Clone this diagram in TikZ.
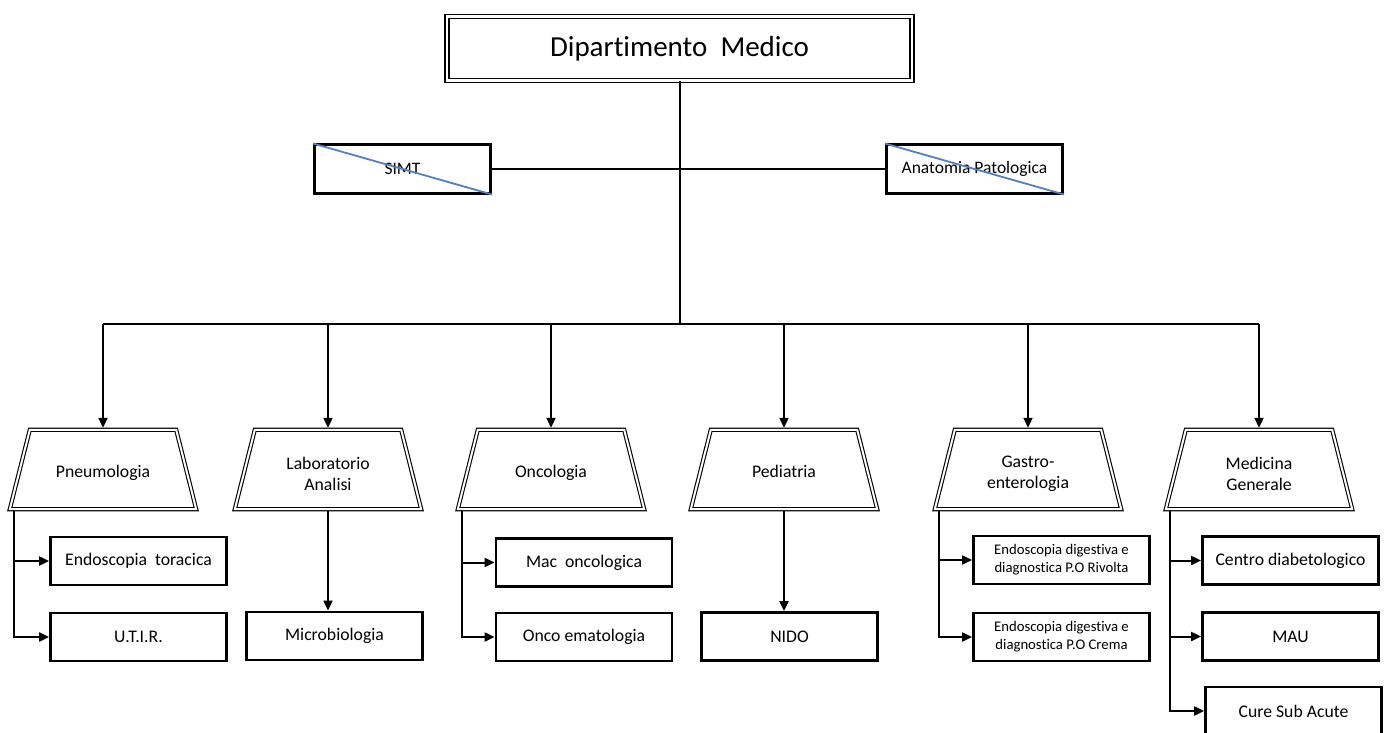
\documentclass[tikz,border=0pt]{standalone}
\usepackage{fontspec}
\setmainfont{Carlito}[Ligatures=NoCommon]
\usetikzlibrary{arrows.meta,calc}
\definecolor{strike}{HTML}{4F81BD}
\begin{document}
\begin{tikzpicture}[x=1pt,y=-1pt,
  conn/.style={line width=2pt},
  arr/.style={conn,-{Triangle[length=10pt,width=9pt]}},
  topbox/.style={draw,double,line width=1.5pt,double distance=2.5pt,
    minimum width=465,minimum height=64,inner sep=0,
    font=\fontsize{29}{33}\selectfont},
  xbox/.style={draw,line width=3pt,minimum width=176,minimum height=48,
    inner sep=0,font=\fontsize{17.5}{21}\selectfont},
  unit/.style={draw,line width=2.8pt,minimum width=176,minimum height=48,
    inner sep=0,align=center,font=\fontsize{17.7}{21}\selectfont},
  small/.style={unit,font=\fontsize{14.7}{17.7}\selectfont},
  dept/.style={minimum width=186,minimum height=79,inner sep=0,align=center,
    font=\fontsize{17.7}{21}\selectfont},
  dbl/.style={draw,double,line width=1.1pt,double distance=2pt,line join=miter}]
\useasboundingbox (0,0) rectangle (1387,733);

% head of the department
\node[topbox] (top) at (679.5,48.5) {Dipartimento~ Medico};

% staff services (struck out)
\node[xbox] (simt) at (402.5,169) {SIMT};
\node[xbox] (anat) at (974.5,169) {Anatomia Patologica};
\draw[strike,line width=1.8pt] (simt.north west) -- (simt.south east);
\draw[strike,line width=1.8pt] (anat.north west) -- (anat.south east);
\draw[conn] (simt.east) -- (anat.west);

% operating units; the text sits a little below the middle of its
% double-lined trapezoid, so the frame is raised by 4pt over the node
\node[dept] (pn) at (103,473.5) {\strut Pneumologia};
\node[dept] (la) at (328,473.5) {Laboratorio\\Analisi};
\node[dept] (on) at (551,473.5) {\strut Oncologia};
\node[dept] (pe) at (784,473.5) {\strut Pediatria};
\node[dept] (ga) at (1028,473.5) {Gastro-\\enterologia};
\node[dept] (mg) at (1259,473.5) {Medicina\\Generale};
\foreach \d in {pn,la,on,pe,ga,mg}
  \draw[dbl] ($(\d.south west)+(0,-4)$) -- ($(\d.north west)+(20,-4)$)
    -- ($(\d.north east)+(-20,-4)$) -- ($(\d.south east)+(0,-4)$) -- cycle;

% main trunk and bus
\coordinate (bus) at (679.5,324);
\draw[conn] (top.south) -- (bus);
\draw[conn] (pn.north |- bus) -- (mg.north |- bus);
\foreach \d in {pn,la,on,pe,ga,mg}
  \draw[arr] (\d.north |- bus) -- ($(\d.north)+(0,-6)$);

% simple structures
\node[unit] (et) at (138.5,561) {Endoscopia~ toracica};
\node[unit] (ut) at (138.5,637) {U.T.I.R.};
\node[unit] (mi) at (334.5,636) {Microbiologia};
\node[unit] (mo) at (584,562.5) {Mac~ oncologica};
\node[unit] (oe) at (584,637) {Onco ematologia};
\node[unit] (ni) at (789.5,636.5) {NIDO};
\node[small] (er) at (1061.5,560) {Endoscopia digestiva e\\diagnostica P.O Rivolta};
\node[small] (ec) at (1061.5,637) {Endoscopia digestiva e\\diagnostica P.O Crema};
\node[unit] (cd) at (1290.5,560.5) {Centro diabetologico};
\node[unit] (ma) at (1290.5,636.5) {MAU};
\node[unit] (cs) at (1293.5,711) {Cure Sub Acute};

% branch lines
\coordinate (pnb) at ($(pn.south west)+(4,-2)$);
\draw[arr] (pnb) |- (ut.west);
\draw[arr] (pnb |- et.west) -- (et.west);

\draw[arr] ($(la.south)+(0,-2)$) -- (la.south |- mi.north);

\coordinate (onb) at ($(on.south west)+(4,-2)$);
\draw[arr] (onb) |- (oe.west);
\draw[arr] (onb |- mo.west) -- (mo.west);

\draw[arr] ($(pe.south)+(0,-2)$) -- (pe.south |- ni.north);

\coordinate (gab) at ($(ga.south west)+(4,-2)$);
\draw[arr] (gab) |- (ec.west);
\draw[arr] (gab |- er.west) -- (er.west);

\coordinate (mgb) at ($(mg.south west)+(4,-2)$);
\draw[arr] (mgb) |- (cs.west);
\draw[arr] (mgb |- cd.west) -- (cd.west);
\draw[arr] (mgb |- ma.west) -- (ma.west);
\end{tikzpicture}
\end{document}
